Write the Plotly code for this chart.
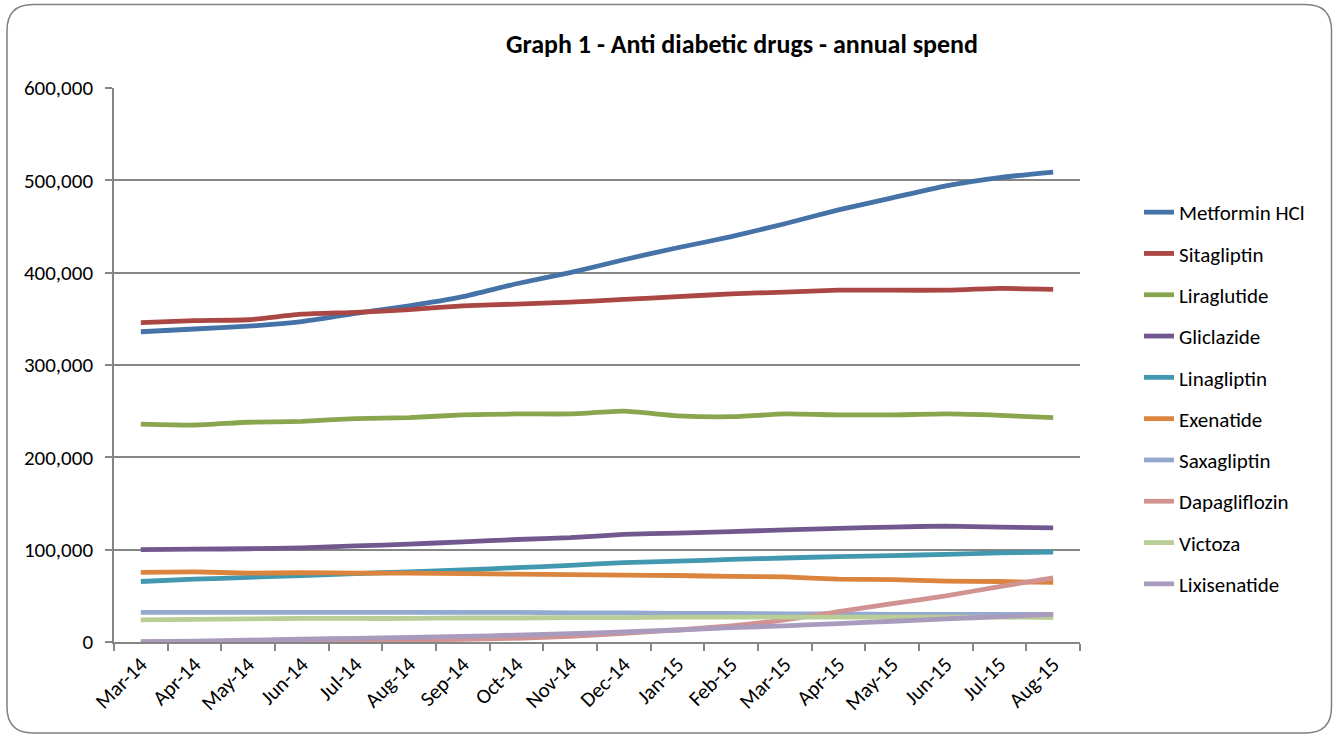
import plotly.graph_objects as go

months = ["Mar-14", "Apr-14", "May-14", "Jun-14", "Jul-14", "Aug-14", "Sep-14", "Oct-14", "Nov-14",
          "Dec-14", "Jan-15", "Feb-15", "Mar-15", "Apr-15", "May-15", "Jun-15", "Jul-15", "Aug-15"]

metformin = [336000, 339000, 342000, 347000, 356000, 364000, 374000, 388000, 400000,
             414000, 427000, 439000, 453000, 468000, 481000, 494000, 503000, 509000]
sitagliptin = [346000, 348000, 349000, 355000, 357000, 360000, 364000, 366000, 368000,
               371000, 374000, 377000, 379000, 381000, 381000, 381000, 383000, 382000]
liraglutide = [236000, 235000, 238000, 239000, 242000, 243000, 246000, 247000, 247000,
               250000, 245000, 244000, 247000, 246000, 246000, 247000, 245500, 243000]
gliclazide = [100000, 100500, 101000, 102000, 104000, 106000, 108500, 111000, 113000,
              116500, 118000, 119500, 121500, 123000, 124500, 125500, 124500, 123500]
linagliptin = [65500, 68000, 70000, 72000, 74000, 76000, 78000, 80500, 83000,
               86000, 87500, 89500, 91000, 92500, 93500, 95000, 96500, 97500]
exenatide = [75500, 76000, 74500, 75000, 74500, 74500, 74000, 73500, 73000,
             72500, 72000, 71000, 70500, 68000, 67500, 66000, 65500, 64500]
saxagliptin = [32000, 32000, 32000, 32000, 32000, 32000, 32000, 32000, 31500,
               31500, 31000, 31000, 30500, 30500, 30000, 30000, 30000, 30000]
dapagliflozin = [0, 0, 500, 1000, 1500, 2000, 3000, 4000, 6000,
                 9500, 13000, 17500, 24000, 33000, 41500, 50000, 60000, 69500]
victoza = [24000, 24500, 25000, 25500, 25500, 25500, 26000, 26000, 26500,
           26500, 27000, 27000, 27000, 27000, 27000, 27000, 27000, 26500]
lixisenatide = [500, 1000, 2000, 3000, 4000, 5000, 6000, 7500, 9000,
                11000, 13000, 15500, 17500, 20000, 22500, 25000, 27500, 30000]

series_names = ["Metformin HCl", "Sitagliptin", "Liraglutide", "Gliclazide", "Linagliptin",
                "Exenatide", "Saxagliptin", "Dapagliflozin", "Victoza", "Lixisenatide"]
series_values = [metformin, sitagliptin, liraglutide, gliclazide, linagliptin,
                 exenatide, saxagliptin, dapagliflozin, victoza, lixisenatide]
colors = ["#4572A7", "#AA4643", "#89A54E", "#71588F", "#4198AF",
          "#DB843D", "#93A9CF", "#D19392", "#B9CD96", "#A99BBD"]

FONT = "Carlito, Calibri, Lato, sans-serif"
GRAY = "#868686"

fig = go.Figure()
for name, vals, col in zip(series_names, series_values, colors):
    fig.add_trace(go.Scatter(
        x=months, y=vals, name=name, mode="lines", legendgroup=name,
        line=dict(color=col, width=4.8, shape="spline", smoothing=0.5),
    ))

W, H = 1333, 735
L, R, T, B = 114, 1080, 88, 642


def px(x):
    return (x - L) / (R - L)


def py(y):
    return (B - y) / (B - T)


# rounded chart-area border
x0, x1, y0, y1, r = 7, 1331.5, 4.5, 733, 26
path = (f"M{px(x0 + r)},{py(y0)} L{px(x1 - r)},{py(y0)} Q{px(x1)},{py(y0)} {px(x1)},{py(y0 + r)} "
        f"L{px(x1)},{py(y1 - r)} Q{px(x1)},{py(y1)} {px(x1 - r)},{py(y1)} "
        f"L{px(x0 + r)},{py(y1)} Q{px(x0)},{py(y1)} {px(x0)},{py(y1 - r)} "
        f"L{px(x0)},{py(y0 + r)} Q{px(x0)},{py(y0)} {px(x0 + r)},{py(y0)} Z")

fig.update_layout(
    width=W, height=H,
    margin=dict(l=L, r=W - R, t=T, b=H - B),
    paper_bgcolor="white", plot_bgcolor="white",
    font=dict(family=FONT, size=21, color="black"),
    title=dict(text="<b>Graph 1 - Anti diabetic drugs - annual spend</b>",
               x=742 / W, xanchor="center", y=1 - 44 / H, yanchor="middle",
               font=dict(family=FONT, size=26, color="black")),
    showlegend=True,
    legend=dict(x=px(1139), xanchor="left", y=py(192), yanchor="top",
                font=dict(family=FONT, size=21, color="black"),
                tracegroupgap=11, bgcolor="rgba(0,0,0,0)"),
    shapes=[dict(type="path", xref="paper", yref="paper", path=path,
                 line=dict(color="#808080", width=1.5), layer="below")],
)

fig.update_xaxes(
    type="category", range=[-0.5, len(months) - 0.5],
    showline=True, linecolor=GRAY, linewidth=1.5,
    ticks="outside", tickson="boundaries", ticklen=7, tickcolor=GRAY, tickwidth=1.5,
    tickangle=-45, showgrid=False,
    tickfont=dict(family=FONT, size=21, color="black"),
)
fig.update_yaxes(
    range=[0, 600000], dtick=100000, tickformat=",",
    showline=True, linecolor=GRAY, linewidth=1.5,
    ticks="outside", ticklen=7, tickcolor=GRAY, tickwidth=1.5,
    ticklabelstandoff=8,
    showgrid=True, gridcolor=GRAY, gridwidth=1.5, zeroline=False,
    tickfont=dict(family=FONT, size=21, color="black"),
)

fig.write_html("out.html")
